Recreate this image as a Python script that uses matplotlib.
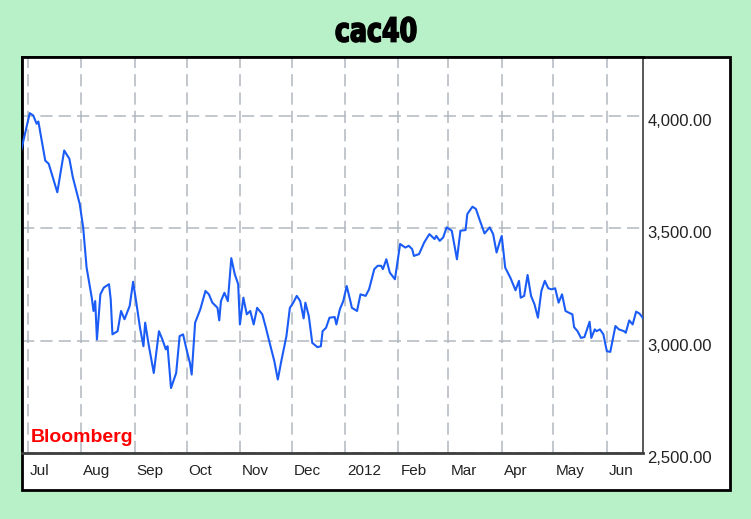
import matplotlib

matplotlib.use("Agg")
import matplotlib.pyplot as plt
import matplotlib.transforms as mtransforms
import pandas as pd
from matplotlib.font_manager import FontProperties
from matplotlib.patches import PathPatch, Rectangle
from matplotlib.textpath import TextPath

# cac40 daily close
dates = [
    "2011-06-27", "2011-07-02", "2011-07-04", "2011-07-06", "2011-07-07", "2011-07-11",
    "2011-07-13", "2011-07-18", "2011-07-22", "2011-07-25", "2011-07-27", "2011-07-31",
    "2011-08-02", "2011-08-04", "2011-08-07", "2011-08-08", "2011-08-09", "2011-08-10",
    "2011-08-12", "2011-08-14", "2011-08-17", "2011-08-18", "2011-08-19", "2011-08-22",
    "2011-08-24", "2011-08-26", "2011-08-29", "2011-08-31", "2011-09-02", "2011-09-04",
    "2011-09-06", "2011-09-07", "2011-09-09", "2011-09-12", "2011-09-15", "2011-09-17",
    "2011-09-19", "2011-09-20", "2011-09-22", "2011-09-25", "2011-09-27", "2011-09-29",
    "2011-10-01", "2011-10-03", "2011-10-04", "2011-10-06", "2011-10-09", "2011-10-12",
    "2011-10-14", "2011-10-16", "2011-10-19", "2011-10-20", "2011-10-21", "2011-10-23",
    "2011-10-25", "2011-10-27", "2011-10-29", "2011-10-31", "2011-11-01", "2011-11-03",
    "2011-11-05", "2011-11-07", "2011-11-09", "2011-11-11", "2011-11-14", "2011-11-16",
    "2011-11-18", "2011-11-21", "2011-11-23", "2011-11-25", "2011-11-28", "2011-11-30",
    "2011-12-02", "2011-12-04", "2011-12-06", "2011-12-08", "2011-12-09", "2011-12-11",
    "2011-12-13", "2011-12-16", "2011-12-18", "2011-12-19", "2011-12-21", "2011-12-23",
    "2011-12-26", "2011-12-27", "2011-12-29", "2011-12-31", "2012-01-02", "2012-01-04",
    "2012-01-05", "2012-01-08", "2012-01-10", "2012-01-13", "2012-01-15", "2012-01-18",
    "2012-01-20", "2012-01-22", "2012-01-23", "2012-01-25", "2012-01-27", "2012-01-30",
    "2012-02-02", "2012-02-05", "2012-02-07", "2012-02-09", "2012-02-10", "2012-02-13",
    "2012-02-16", "2012-02-19", "2012-02-22", "2012-02-23", "2012-02-25", "2012-02-27",
    "2012-02-29", "2012-03-03", "2012-03-06", "2012-03-08", "2012-03-11", "2012-03-12",
    "2012-03-15", "2012-03-17", "2012-03-19", "2012-03-22", "2012-03-25", "2012-03-27",
    "2012-03-29", "2012-03-31", "2012-04-01", "2012-04-03", "2012-04-06", "2012-04-09",
    "2012-04-11", "2012-04-12", "2012-04-14", "2012-04-16", "2012-04-18", "2012-04-20",
    "2012-04-22", "2012-04-24", "2012-04-26", "2012-04-28", "2012-04-30", "2012-05-02",
    "2012-05-04", "2012-05-06", "2012-05-08", "2012-05-10", "2012-05-12", "2012-05-13",
    "2012-05-15", "2012-05-17", "2012-05-19", "2012-05-22", "2012-05-23", "2012-05-25",
    "2012-05-26", "2012-05-28", "2012-05-30", "2012-06-01", "2012-06-03", "2012-06-06",
    "2012-06-08", "2012-06-11", "2012-06-12", "2012-06-14", "2012-06-16", "2012-06-18",
    "2012-06-20", "2012-06-22",
]
closes = [
    3846, 4012, 4002, 3965, 3975, 3801,
    3787, 3660, 3846, 3809, 3727, 3608,
    3504, 3325, 3191, 3132, 3176, 3005,
    3206, 3236, 3251, 3184, 3028, 3042,
    3132, 3095, 3154, 3262, 3162, 3057,
    2975, 3080, 2983, 2856, 3042, 3005,
    2961, 2975, 2789, 2856, 3020, 3028,
    2961, 2900, 2849, 3080, 3139, 3221,
    3206, 3169, 3146, 3090, 3176, 3213,
    3176, 3367, 3296, 3251, 3072, 3191,
    3117, 3132, 3072, 3146, 3117, 3060,
    2998, 2908, 2827, 2908, 3020, 3146,
    3169, 3199, 3176, 3099, 3169, 3109,
    2990, 2971, 2975, 3042, 3057, 3102,
    3105, 3072, 3139, 3176, 3243, 3180,
    3146, 3132, 3206, 3199, 3229, 3318,
    3333, 3333, 3318, 3362, 3303, 3273,
    3430, 3414, 3422, 3407, 3377, 3385,
    3437, 3474, 3452, 3466, 3444, 3459,
    3504, 3489, 3362, 3489, 3492, 3563,
    3596, 3586, 3541, 3477, 3504, 3474,
    3392, 3444, 3466, 3325, 3280, 3224,
    3266, 3191, 3199, 3292, 3199, 3162,
    3102, 3221, 3266, 3233, 3228, 3233,
    3169, 3206, 3132, 3124, 3117, 3060,
    3042, 3012, 3016, 3084, 3012, 3050,
    3042, 3050, 3028, 2953, 2950, 3065,
    3050, 3042, 3035, 3090, 3072, 3129,
    3120, 3100,
]
month_starts = ["2011-07-01", "2011-08-01", "2011-09-01", "2011-10-01", "2011-11-01",
                "2011-12-01", "2012-01-01", "2012-02-01", "2012-03-01", "2012-04-01",
                "2012-05-01", "2012-06-01"]
month_labels = ["Jul", "Aug", "Sep", "Oct", "Nov", "Dec", "2012", "Feb", "Mar", "Apr",
                "May", "Jun"]
y_ticks = [2500, 3000, 3500, 4000]

BG = "#b8f0c8"
W, H = 751, 519
LABEL_FONT = ["Liberation Sans", "DejaVu Sans"]

x = pd.to_datetime(dates)
months = pd.to_datetime(month_starts)

fig = plt.figure(figsize=(W / 100, H / 100), dpi=100, facecolor=BG)

# white panel with black frame, behind the axes
fig.patches.append(Rectangle((22 / W, 1 - 490 / H), 708 / W, 433 / H,
                             transform=fig.transFigure, facecolor="white",
                             edgecolor="black", lw=2, zorder=-5))

ax = fig.add_axes([22 / W, 1 - 453 / H, 621 / W, 396 / H])
ax.set_facecolor("white")
ax.plot(x, closes, color="#1a5cf5", lw=1.5, zorder=3)

ax.set_xlim(pd.Timestamp("2011-06-27 12:00"), pd.Timestamp("2012-06-22"))
ax.set_ylim(2500, 4262)

ax.set_xticks(months)
ax.set_xticklabels(month_labels, ha="left", fontsize=11, color="#222222", family=LABEL_FONT)
ax.set_yticks(y_ticks)
ax.set_yticklabels([f"{v:,.2f}" for v in y_ticks], fontsize=12, color="#222222",
                   family=LABEL_FONT)
ax.yaxis.tick_right()
ax.tick_params(axis="x", length=0, pad=8)
ax.tick_params(axis="y", length=0, pad=3)

ax.grid(True, color="#b0b8c0", lw=1.1, dashes=(8, 4))
ax.set_axisbelow(True)

for side in ("left", "top"):
    ax.spines[side].set_color("black")
    ax.spines[side].set_linewidth(2)
ax.spines["right"].set_color("#3c3c3c")
ax.spines["right"].set_linewidth(1.2)
ax.spines["bottom"].set_color("#3c3c3c")
ax.spines["bottom"].set_linewidth(2)

# months sit just right of their gridline, values a little under theirs
off_x = mtransforms.ScaledTranslation(2 / 100, 0, fig.dpi_scale_trans)
for lbl in ax.get_xticklabels():
    lbl.set_transform(lbl.get_transform() + off_x)
off_y = mtransforms.ScaledTranslation(0, -4 / 100, fig.dpi_scale_trans)
for lbl in ax.get_yticklabels():
    lbl.set_transform(lbl.get_transform() + off_y)

# condensed heavy title: squeeze a bold text path sideways
tp = TextPath((0, 0), "cac40", size=34, prop=FontProperties(family="DejaVu Sans", weight="bold"))
bb = tp.get_extents()
sx, sy = 80 / bb.width, 25 / bb.height
title_tf = (mtransforms.Affine2D().translate(-bb.x0 - bb.width / 2, -bb.y0)
            .scale(sx, sy).translate(376, H - 42))
fig.patches.append(PathPatch(title_tf.transform_path(tp), transform=mtransforms.IdentityTransform(),
                             facecolor="black", edgecolor="black", lw=1.2))

fig.text(31 / W, 1 - 437 / H, "Bloomberg", ha="left", va="center", fontsize=14,
         weight="bold", color="#ff0000", family=LABEL_FONT)

fig.savefig("out.png", dpi=100, facecolor=BG)
